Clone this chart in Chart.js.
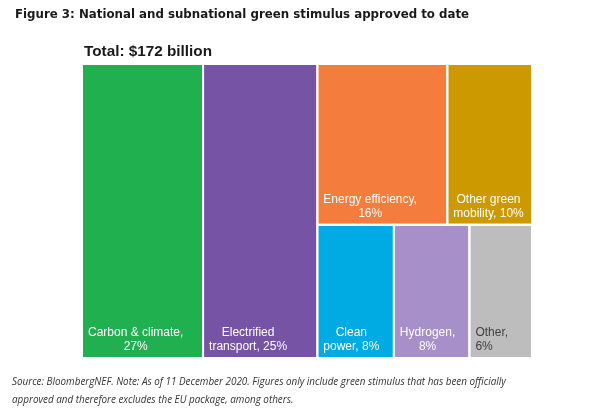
<!DOCTYPE html>
<html>
<head>
<meta charset="utf-8">
<script src="https://cdn.jsdelivr.net/npm/chart.js@4.4.1/dist/chart.umd.min.js"></script>
<style>
  html, body { margin: 0; padding: 0; background: #fff; }
  #wrap { position: relative; width: 593px; height: 417px; overflow: hidden; }
  #chart { position: absolute; left: 0; top: 0; }
  .txt { position: absolute; white-space: nowrap; }
  #title { left: 15px; top: 5px; font: bold 11.8px "DejaVu Sans", Verdana, sans-serif; color: #1a1a1a; line-height: 18px; }
  #total { left: 84px; top: 41px; font: bold 15.3px "Liberation Sans", Arial, sans-serif; color: #1a1a1a; line-height: 20px; }
  #source { left: 12px; top: 373px; font: italic 9.9px "Open Sans", sans-serif; color: #333; line-height: 17.6px; }
</style>
</head>
<body>
<div id="wrap">
  <canvas id="chart" width="593" height="417"></canvas>
  <div class="txt" id="title">Figure 3: National and subnational green stimulus approved to date</div>
  <div class="txt" id="total">Total: $172 billion</div>
  <div class="txt" id="source">Source: BloombergNEF. Note: As of 11 December 2020. Figures only include green stimulus that has been officially<br>approved and therefore excludes the EU package, among others.</div>
</div>
<script>
// categories and their share of the total (percent)
const categories = ['Carbon & climate', 'Electrified transport', 'Energy efficiency',
                    'Other green mobility', 'Clean power', 'Hydrogen', 'Other'];
const shares = [26.9, 25.4, 15.8, 10.3, 7.7, 7.6, 6.3];

const colors = ['#21b04f', '#7653a5', '#f47d3e', '#cc9a00', '#00aae3', '#a78fc9', '#bdbdbd'];
const textColors = ['#fff', '#fff', '#fff', '#fff', '#fff', '#fff', '#404040'];
const textAlign = ['center', 'center', 'center', 'center', 'center', 'center', 'left'];

// how the boxes are grouped: columns, then the right block split into two rows
const tree = { dir: 'h', children: [0, 1, { dir: 'v', children: [
  { dir: 'h', children: [2, 3] },
  { dir: 'h', children: [4, 5, 6] }
]}]};

function nodeSum(n) {
  return typeof n === 'number' ? shares[n] : n.children.reduce((s, c) => s + nodeSum(c), 0);
}

const rects = [];
function layout(n, x0, y0, x1, y1) {
  if (typeof n === 'number') { rects[n] = { x0, y0, x1, y1 }; return; }
  const tot = nodeSum(n);
  let pos = n.dir === 'h' ? x0 : y0;
  n.children.forEach(c => {
    const span = (n.dir === 'h' ? (x1 - x0) : (y1 - y0)) * nodeSum(c) / tot;
    if (n.dir === 'h') layout(c, pos, y0, pos + span, y1);
    else layout(c, x0, pos, x1, pos + span);
    pos += span;
  });
}
layout(tree, 0, 0, 100, 100);

const datasets = categories.map((name, i) => {
  const r = rects[i];
  return {
    label: name,
    data: [
      { x: r.x0, y: r.y0 }, { x: r.x1, y: r.y0 }, { x: r.x1, y: r.y1 },
      { x: r.x0, y: r.y1 }, { x: r.x0, y: r.y0 }
    ],
    showLine: true,
    fill: 'shape',
    backgroundColor: colors[i],
    borderColor: '#ffffff',
    borderWidth: 2,
    borderJoinStyle: 'miter',
    pointRadius: 0,
    pointHoverRadius: 0,
    tension: 0
  };
});

function wrap(ctx, text, maxW) {
  const words = text.split(' ');
  const lines = [];
  let cur = '';
  words.forEach(w => {
    const test = cur ? cur + ' ' + w : w;
    if (cur && ctx.measureText(test).width > maxW) { lines.push(cur); cur = w; }
    else cur = test;
  });
  if (cur) lines.push(cur);
  return lines;
}

const boxLabels = {
  id: 'boxLabels',
  afterDatasetsDraw(chart) {
    const { ctx, scales: { x, y } } = chart;
    ctx.save();
    ctx.font = '12px "Liberation Sans", Arial, sans-serif';
    ctx.textBaseline = 'middle';
    categories.forEach((name, i) => {
      const r = rects[i];
      const left = x.getPixelForValue(r.x0);
      const right = x.getPixelForValue(r.x1);
      const bottom = y.getPixelForValue(r.y1);
      const text = name + ', ' + Math.round(shares[i]) + '%';
      const lines = wrap(ctx, text, right - left - 12);
      const blockW = Math.max(...lines.map(l => ctx.measureText(l).width));
      const bx = left + 6;
      ctx.fillStyle = textColors[i];
      lines.forEach((l, k) => {
        const ly = bottom - 11.5 - (lines.length - 1 - k) * 14;
        if (textAlign[i] === 'left') { ctx.textAlign = 'left'; ctx.fillText(l, bx, ly); }
        else { ctx.textAlign = 'center'; ctx.fillText(l, bx + blockW / 2, ly); }
      });
    });
    ctx.restore();
  }
};

new Chart(document.getElementById('chart'), {
  type: 'scatter',
  data: { datasets: datasets },
  options: {
    responsive: false,
    animation: false,
    events: [],
    layout: { padding: { left: 82, top: 64, right: 61, bottom: 59 } },
    scales: {
      x: { type: 'linear', min: 0, max: 100, display: false },
      y: { type: 'linear', min: 0, max: 100, reverse: true, display: false }
    },
    plugins: {
      legend: { display: false },
      tooltip: { enabled: false },
      filler: { drawTime: 'beforeDatasetsDraw' }
    }
  },
  plugins: [boxLabels]
});
</script>
</body>
</html>
